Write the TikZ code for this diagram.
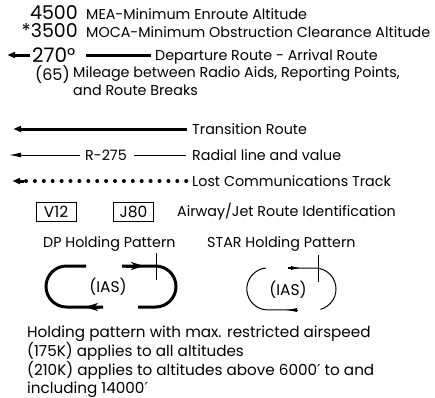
\documentclass[tikz,border=0pt]{standalone}
\usepackage{fontspec}
\setmainfont{Poppins}
\newfontfamily\primefont{DejaVu Sans}
\newcommand{\prm}{{\primefont ′}}
\usetikzlibrary{arrows.meta}
\begin{document}
\begin{tikzpicture}[x=1pt,y=-1pt,
  desc/.style={anchor=base west, inner sep=0pt, font=\fontsize{14.3}{17}\selectfont},
  note/.style={anchor=base west, inner sep=0pt, font=\fontsize{15.2}{17}\selectfont},
  num/.style={anchor=base east, inner sep=0pt, font=\fontsize{19}{22}\selectfont},
  boxlbl/.style={draw, line width=0.8pt, inner sep=0pt, minimum width=40pt, minimum height=19pt, font=\fontsize{15.5}{17}\selectfont},
  ias/.style={inner sep=0pt, font=\fontsize{15.5}{17}\selectfont},
  heavy/.style={line width=3pt},
  thinline/.style={line width=1pt},
  bighead/.style={-{Latex[length=15pt,width=6pt]}},
  smallhead/.style={-{Latex[length=12pt,width=5pt]}},
  holdhead/.style={-{Stealth[length=13pt,width=8pt,inset=4pt]}},
  dot/.style={circle, fill, inner sep=0pt, minimum size=4pt}
]
\useasboundingbox (0,0) rectangle (435,397);

% altitudes
\node[num] (n4500) at (78,19) {4500};
\node[desc] (mea) at (86,19) {MEA-Minimum Enroute Altitude};
\node[num] (n3500) at (78,37) {*3500};
\node[desc] (moca) at (86,37) {MOCA-Minimum Obstruction Clearance Altitude};

% 270 line
\coordinate (a270) at (0,55);
\node[anchor=base west, inner sep=0pt, font=\fontsize{20}{22}\selectfont] (n270) at (32,62.5) {270°};
\draw[heavy, bighead] (30,55) -- (a270);
\coordinate (r1) at (86,55);
\coordinate (r2) at (151,55);
\draw[heavy] (r1) -- (r2);
\node[desc] (dep) at (155,60) {Departure Route - Arrival Route};

% mileage
\node[anchor=base east, inner sep=0pt, font=\fontsize{16}{18}\selectfont] (n65) at (70,80) {(65)};
\node[desc] (mil1) at (73,77) {Mileage between Radio Aids, Reporting Points,};
\node[desc] (mil2) at (73,95) {and Route Breaks};

% transition route
\coordinate (t1) at (187,129);
\coordinate (t0) at (6,129);
\draw[heavy, bighead] (t1) -- (t0);
\node[desc] (trans) at (192,134) {Transition Route};

% radial
\node[desc] (r275) at (85,160) {R-275};
\coordinate (rad0) at (9,155);
\coordinate (rad1) at (80,155);
\draw[thinline, smallhead] (rad1) -- (rad0);
\coordinate (rad2) at (134,155);
\coordinate (rad3) at (186,155);
\draw[thinline] (rad2) -- (rad3);
\node[desc] (radial) at (192,160) {Radial line and value};

% lost comms
\coordinate (lc0) at (5,181);
\coordinate (lc1) at (24,181);
\draw[heavy, bighead] (lc1) -- (lc0);
\foreach \i in {0,...,18} {
  \node[dot] (d\i) at (26+8.9*\i,181) {};
}
\node[desc] (lost) at (192,186) {Lost Communications Track};

% airway boxes
\node[boxlbl] (v12) at (56,211.5) {V12};
\node[boxlbl] (j80) at (133.5,211.5) {J80};
\node[desc] (airway) at (177,216) {Airway/Jet Route Identification};

% holding labels
\node[desc] (dp) at (43,247) {DP Holding Pattern};
\node[desc] (star) at (207,247) {STAR Holding Pattern};

% DP holding pattern
\coordinate (dpA) at (86,266);
\coordinate (dpB) at (103,307);
\draw[heavy] (dpA) -- (66.5,266) arc[start angle=-90, end angle=-270, radius=20.5] -- (dpB);
\draw[heavy, holdhead] (100,307) -- (85,307);
\coordinate (dpC) at (122,266);
\coordinate (dpD) at (138,307);
\draw[heavy] (dpC) -- (155.5,266) arc[start angle=-90, end angle=90, radius=20.5] -- (dpD);
\draw[heavy, holdhead] (126,266) -- (144,266);
\coordinate (dpT0) at (156,253);
\coordinate (dpT1) at (156,280);
\draw[thinline] (dpT0) -- (dpT1);
\node[ias] (dpias) at (108,287) {(IAS)};

% STAR holding pattern
\coordinate (stB) at (297,310);
\draw[thinline] (266,268) arc[start angle=-95, end angle=-270, radius=21] -- (stB);
\draw[thinline, -{Latex[length=12pt,width=4pt]}] (297,310) -- (285,310);
\coordinate (stA) at (288,268);
\draw[thinline] (stA) -- (315,268) arc[start angle=-90, end angle=75, radius=21];
\draw[line width=1.6pt, -{Latex[length=12pt,width=4pt]}] (288,268) -- (303,268);
\coordinate (stT0) at (318,255);
\coordinate (stT1) at (318,282);
\draw[thinline] (stT0) -- (stT1);
\node[ias] (stias) at (288,290) {(IAS)};

% bottom text
\node[note] (h1) at (27,337) {Holding pattern with max. restricted airspeed};
\node[note] (h2) at (27,356) {(175K) applies to all altitudes};
\node[note] (h3) at (27,375) {(210K) applies to altitudes above 6000\prm{} to and};
\node[note] (h4) at (27,393) {including 14000\prm};
\end{tikzpicture}
\end{document}
